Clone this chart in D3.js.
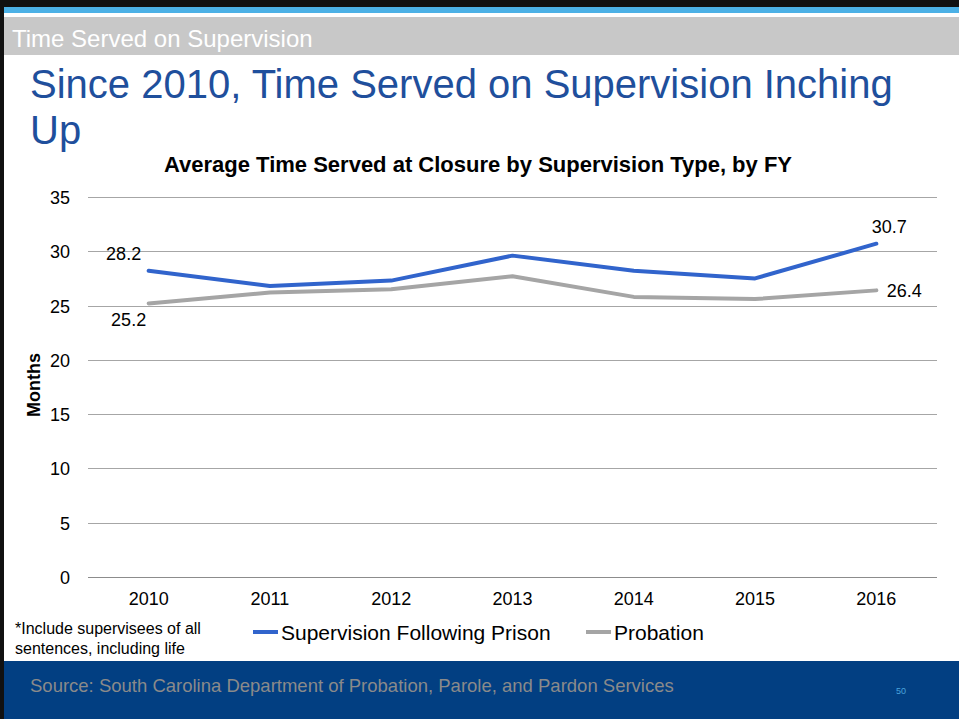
<!DOCTYPE html>
<html>
<head>
<meta charset="utf-8">
<script src="https://cdn.jsdelivr.net/npm/d3@7"></script>
<style>
  body { margin: 0; background: #fff; }
  svg { display: block; font-family: "Liberation Sans", Arial, sans-serif; }
</style>
</head>
<body>
<div id="container"></div>
<script>
const width = 959,
  height = 719,
  margin = { top: 197, bottom: 142, left: 88, right: 22 }

// DATA
const years = ["2010", "2011", "2012", "2013", "2014", "2015", "2016"]
const afterPrison = [28.2, 26.8, 27.3, 29.6, 28.2, 27.5, 30.7]
const probation = [25.2, 26.2, 26.5, 27.7, 25.8, 25.6, 26.4]
const yTicks = [0, 5, 10, 15, 20, 25, 30, 35]
const seriesNames = ["Supervision Following Prison", "Probation"]
const colors = ["#3164cc", "#a5a5a5"]

const svg = d3.select("#container")
  .append("svg")
  .attr("width", width)
  .attr("height", height)

// slide frame
svg.append("rect").attr("x", 0).attr("y", 0).attr("width", width).attr("height", 7).attr("fill", "#111")
svg.append("rect").attr("x", 0).attr("y", 7).attr("width", width).attr("height", 6).attr("fill", "#4cb1e6")
svg.append("rect").attr("x", 0).attr("y", 17).attr("width", width).attr("height", 38).attr("fill", "#c8c8c8")
svg.append("rect").attr("x", 0).attr("y", 661).attr("width", width).attr("height", 58).attr("fill", "#023f82")
svg.append("rect").attr("x", 0).attr("y", 0).attr("width", 4).attr("height", height).attr("fill", "#111")

svg.append("text")
  .attr("x", 12).attr("y", 47)
  .attr("fill", "#fff")
  .style("font-size", "24px")
  .text("Time Served on Supervision")

// slide title
svg.append("text")
  .attr("x", 30).attr("y", 98)
  .attr("fill", "#1f4f9c")
  .style("font-size", "40px")
  .text("Since 2010, Time Served on Supervision Inching")
svg.append("text")
  .attr("x", 30).attr("y", 144)
  .attr("fill", "#1f4f9c")
  .style("font-size", "40px")
  .text("Up")

// footer
svg.append("text")
  .attr("x", 30).attr("y", 692)
  .attr("fill", "#8a8a8a")
  .style("font-size", "18.5px")
  .text("Source: South Carolina Department of Probation, Parole, and Pardon Services")
svg.append("text")
  .attr("x", 896).attr("y", 694)
  .attr("fill", "#4aa3dc")
  .style("font-size", "9px")
  .text("50")

// chart title
svg.append("text")
  .attr("x", 478).attr("y", 172)
  .attr("text-anchor", "middle")
  .attr("font-weight", "bold")
  .style("font-size", "22px")
  .text("Average Time Served at Closure by Supervision Type, by FY")

// SCALES
const xScale = d3.scaleBand()
  .domain(years)
  .range([margin.left, width - margin.right])

const yScale = d3.scaleLinear()
  .domain([0, 35])
  .range([height - margin.bottom, margin.top])

// gridlines
svg.append("g")
  .selectAll("line")
  .data(yTicks)
  .join("line")
  .attr("x1", margin.left)
  .attr("x2", width - margin.right)
  .attr("y1", d => Math.round(yScale(d)) + 0.5)
  .attr("y2", d => Math.round(yScale(d)) + 0.5)
  .attr("stroke", d => d === 0 ? "#8c8c8c" : "#a6a6a6")
  .attr("stroke-width", 1)

// AXES
const yAxis = d3.axisLeft(yScale).tickValues(yTicks).tickSize(0).tickPadding(0)
svg.append("g")
  .attr("transform", `translate(70,0)`)
  .style("font-size", "18px")
  .call(yAxis)
  .call(g => g.select(".domain").remove())
  .selectAll("text").attr("fill", "#000").attr("dy", "0.36em")

const xAxis = d3.axisBottom(xScale).tickSize(0).tickPadding(0)
svg.append("g")
  .attr("transform", `translate(0,${height - margin.bottom + 15})`)
  .style("font-size", "18px")
  .call(xAxis)
  .call(g => g.select(".domain").remove())
  .selectAll("text").attr("fill", "#000").attr("dy", "0.71em")

svg.append("text")
  .attr("transform", "translate(40,385) rotate(-90)")
  .attr("text-anchor", "middle")
  .attr("font-weight", "bold")
  .style("font-size", "18px")
  .text("Months")

// LINES
const lineGen = d3.line()
  .x((d, i) => xScale(years[i]) + xScale.bandwidth() / 2)
  .y(d => yScale(d))

svg.selectAll(".line")
  .data([probation, afterPrison])
  .join("path")
  .attr("class", "line")
  .attr("fill", "none")
  .attr("stroke", (d, i) => i === 0 ? colors[1] : colors[0])
  .attr("stroke-width", 4)
  .attr("stroke-linecap", "round")
  .attr("stroke-linejoin", "round")
  .attr("d", d => lineGen(d))

// data labels
const cx = i => xScale(years[i]) + xScale.bandwidth() / 2
const labels = [
  { v: afterPrison[0], x: cx(0) - 25, y: yScale(afterPrison[0]) - 11 },
  { v: probation[0], x: cx(0) - 20, y: yScale(probation[0]) + 23 },
  { v: afterPrison[6], x: cx(6) + 13, y: yScale(afterPrison[6]) - 11 },
  { v: probation[6], x: cx(6) + 28, y: yScale(probation[6]) + 7 }
]
svg.append("g")
  .selectAll("text")
  .data(labels)
  .join("text")
  .attr("x", d => d.x)
  .attr("y", d => d.y)
  .attr("text-anchor", "middle")
  .style("font-size", "18px")
  .text(d => d.v.toFixed(1))

// legend
const legendX = [253, 586]
const legend = svg.append("g")
  .selectAll("g")
  .data(seriesNames)
  .join("g")
  .attr("transform", (d, i) => `translate(${legendX[i]},632)`)
legend.append("line")
  .attr("x1", 0).attr("x2", 25)
  .attr("stroke", (d, i) => colors[i])
  .attr("stroke-width", 4)
legend.append("text")
  .attr("x", 28).attr("y", 7.5)
  .style("font-size", "21px")
  .text(d => d)

// footnote
svg.append("text")
  .attr("x", 15).attr("y", 634)
  .style("font-size", "16px")
  .text("*Include supervisees of all")
svg.append("text")
  .attr("x", 15).attr("y", 654)
  .style("font-size", "16px")
  .text("sentences, including life")
</script>
</body>
</html>
